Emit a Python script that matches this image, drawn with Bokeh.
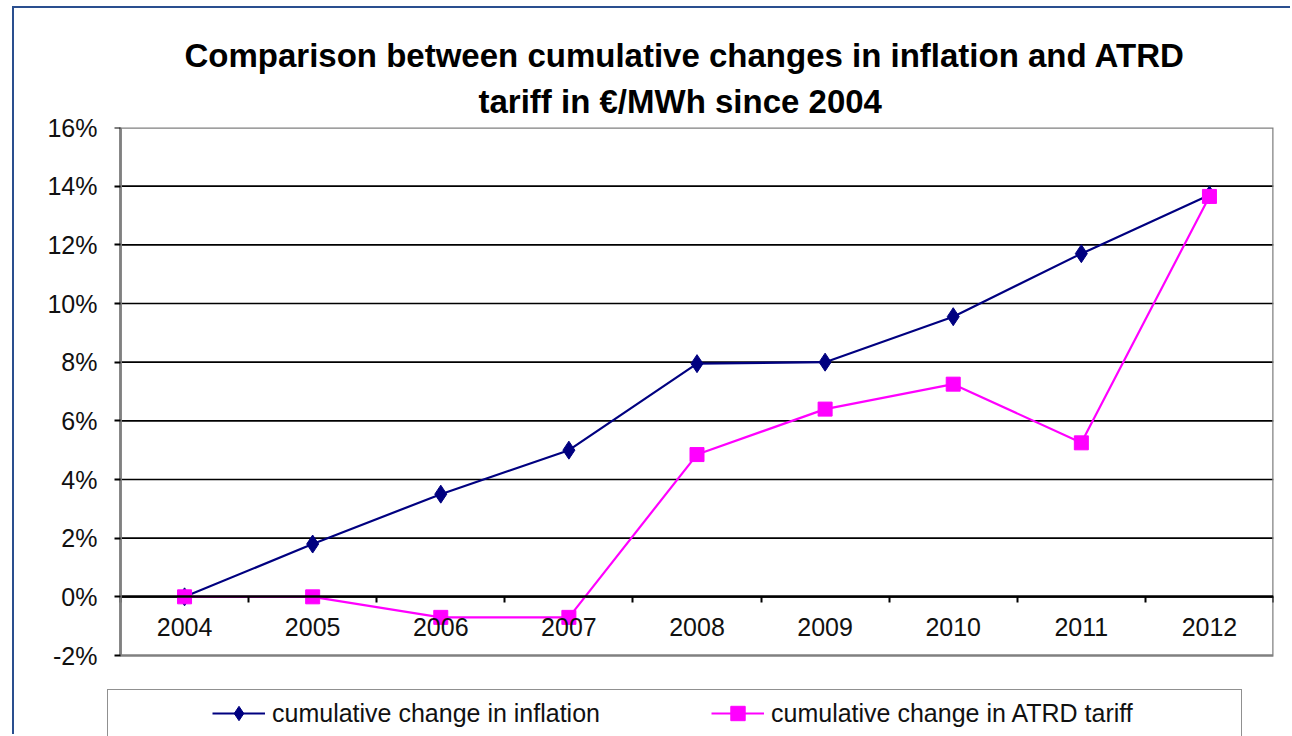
from bokeh.plotting import figure
from bokeh.models import Range1d, FixedTicker, LinearAxis, Legend, LegendItem, Title, ColumnDataSource
from bokeh.embed import file_html
from bokeh.resources import INLINE

# ---- data ----
years = [2004, 2005, 2006, 2007, 2008, 2009, 2010, 2011, 2012]
inflation = [0.0, 1.8, 3.5, 5.0, 7.95, 8.0, 9.55, 11.7, 13.7]
atrd = [0.0, 0.0, -0.7, -0.7, 4.85, 6.4, 7.25, 5.25, 13.65]
y_ticks = [-2, 0, 2, 4, 6, 8, 10, 12, 14, 16]
y_tick_labels = ["-2%", "0%", "2%", "4%", "6%", "8%", "10%", "12%", "14%", "16%"]
series_names = ["cumulative change in inflation", "cumulative change in ATRD tariff"]
title_lines = ["Comparison between cumulative changes in inflation and ATRD",
               "tariff in \u20ac/MWh since 2004"]

FONT = "Liberation Sans"
NAVY = "#000080"
MAGENTA = "#FF00FF"
GRAY = "#808080"
TICK_FS = "25px"

# ---- layout geometry (pixels) ----
W, H = 1278, 728
PLOT_W, PLOT_H = 1153, 528          # the chart's plot area
LEFT_EXTRA = 13                      # frame extends left of plot area (legend box)
BOTTOM_EXTRA = 81                    # frame extends below plot area (legend box)

x_lo, x_hi = years[0] - 0.5, years[-1] + 0.5
y_lo, y_hi = y_ticks[0], y_ticks[-1]
x_per_px = (x_hi - x_lo) / PLOT_W
y_per_px = (y_hi - y_lo) / PLOT_H

p = figure(width=W, height=H,
           x_range=Range1d(x_lo - LEFT_EXTRA * x_per_px, x_hi),
           y_range=Range1d(y_lo - BOTTOM_EXTRA * y_per_px, y_hi),
           output_backend="svg", toolbar_location=None,
           x_axis_location=None, title=None,
           min_border_left=93, min_border_right=19,
           min_border_top=119, min_border_bottom=0)
p.styles = {"border-left": "2px solid #2a4f8f", "border-top": "2px solid #2a4f8f",
            "margin-left": "12px", "margin-top": "6px"}
p.outline_line_color = None
p.xgrid.visible = False
p.ygrid.visible = False

t2 = Title(text=title_lines[1], align="left", offset=358 + LEFT_EXTRA, standoff=15,
           text_font=FONT, text_font_size="33px", text_font_style="bold", text_color="#000000")
t1 = Title(text=title_lines[0], align="left", offset=64 + LEFT_EXTRA, standoff=0,
           text_font=FONT, text_font_size="33px", text_font_style="bold", text_color="#000000")
p.add_layout(t2, "above")
p.add_layout(t1, "above")

# horizontal gridlines inside the plot area
grid_vals = [t for t in y_ticks if y_lo < t < y_hi]
p.segment(x0=[x_lo] * len(grid_vals), y0=grid_vals, x1=[x_hi] * len(grid_vals), y1=grid_vals,
          line_color="#000000", line_width=1.6)
# plot area border
p.quad(left=[x_lo], right=[x_hi], bottom=[y_lo], top=[y_hi],
       fill_color=None, line_color=GRAY, line_width=2.5)

# y tick labels (left panel axis, labels only)
yax = p.yaxis[0]
yax.bounds = (y_lo, y_hi)
yax.ticker = FixedTicker(ticks=y_ticks)
yax.major_label_overrides = {t: l for t, l in zip(y_ticks, y_tick_labels)}
yax.axis_line_color = None
yax.major_tick_line_color = None
yax.major_tick_out = 0
yax.major_tick_in = 0
yax.minor_tick_line_color = None
yax.major_label_standoff = 10
yax.major_label_text_font = FONT
yax.major_label_text_font_size = TICK_FS
yax.major_label_text_color = "#111111"

# y axis line and ticks at the plot area's left edge
yline = LinearAxis(fixed_location=x_lo, bounds=(y_lo, y_hi), ticker=FixedTicker(ticks=y_ticks))
yline.axis_line_color = GRAY
yline.axis_line_width = 2.5
yline.major_tick_out = 6
yline.major_tick_in = 0
yline.major_tick_line_color = "#000000"
yline.major_tick_line_width = 2
yline.minor_tick_line_color = None
yline.major_label_text_alpha = 0
yline.major_label_text_font_size = "1px"
p.add_layout(yline, "left")

# category boundary ticks on the zero line
ax_ticks = LinearAxis(fixed_location=0, bounds=(x_lo, x_hi),
                      ticker=FixedTicker(ticks=[y - 0.5 for y in years] + [x_hi]))
ax_ticks.axis_line_color = None
ax_ticks.major_tick_out = 6
ax_ticks.major_tick_in = 0
ax_ticks.major_tick_line_color = "#000000"
ax_ticks.major_tick_line_width = 2
ax_ticks.minor_tick_line_color = None
ax_ticks.major_label_text_alpha = 0
ax_ticks.major_label_text_font_size = "1px"

ax_lab = LinearAxis(fixed_location=0, bounds=(x_lo, x_hi), ticker=FixedTicker(ticks=years))
ax_lab.major_label_overrides = {y: str(y) for y in years}
ax_lab.axis_line_color = "#000000"
ax_lab.axis_line_width = 2.5
ax_lab.major_tick_line_color = None
ax_lab.major_tick_out = 0
ax_lab.major_tick_in = 0
ax_lab.minor_tick_line_color = None
ax_lab.major_label_standoff = 21
ax_lab.major_label_text_font = FONT
ax_lab.major_label_text_font_size = TICK_FS
ax_lab.major_label_text_color = "#111111"

p.add_layout(ax_ticks, "below")
p.add_layout(ax_lab, "below")

l1 = p.line(years, inflation, line_color=NAVY, line_width=2.2)
m1 = p.scatter(years, inflation, marker="diamond", size=18, fill_color=NAVY, line_color=NAVY)
l2 = p.line(years, atrd, line_color=MAGENTA, line_width=2.2)
m2 = p.scatter(years, atrd, marker="square", size=14, fill_color=MAGENTA, line_color=MAGENTA)

# ---- legend: outer box ----
empty = ColumnDataSource(dict(x=[], y=[]))
dummy = p.line("x", "y", source=empty, line_alpha=0)
box = Legend(items=[LegendItem(label=" ", renderers=[dummy])],
             location=(0, -5), orientation="horizontal",
             glyph_width=20, glyph_height=50, label_standoff=0, label_width=1113,
             padding=0, margin=0, spacing=0,
             border_line_color="#222222", border_line_width=1.5,
             background_fill_color="white", background_fill_alpha=1,
             label_text_font=FONT, label_text_font_size="10px")
p.add_layout(box, "center")

legend = Legend(items=[LegendItem(label=series_names[0], renderers=[l1, m1]),
                       LegendItem(label=series_names[1], renderers=[l2, m2])],
                orientation="horizontal", location=(105, 5),
                glyph_width=53, glyph_height=36, label_standoff=7,
                label_width=420, spacing=19, padding=0, margin=0,
                border_line_color=None, background_fill_alpha=0,
                label_text_font=FONT, label_text_font_size=TICK_FS,
                label_text_color="#111111")
p.add_layout(legend, "center")

open("out.html", "w").write(file_html(p, INLINE))
